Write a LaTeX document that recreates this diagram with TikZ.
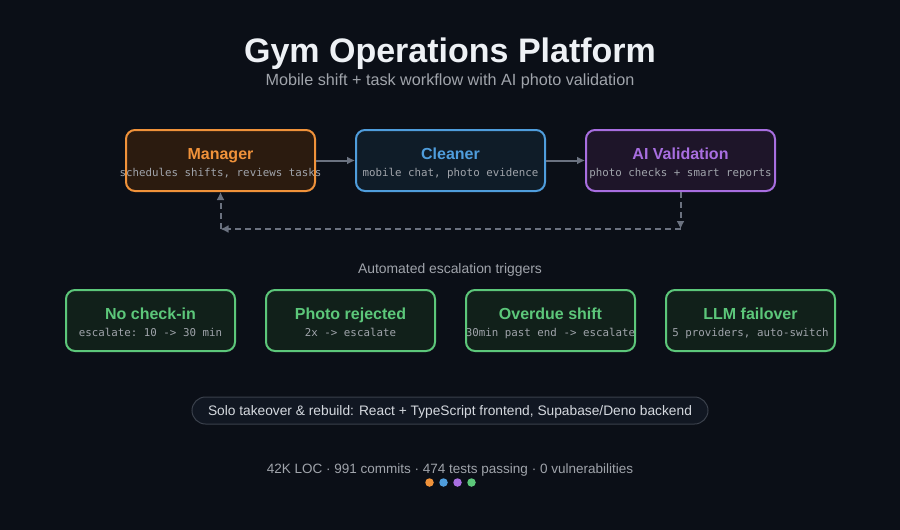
\documentclass[tikz,border=0pt]{standalone}
\usepackage{fontspec}
\setmainfont{Liberation Sans}
\setmonofont{DejaVu Sans Mono}
\usetikzlibrary{arrows.meta}
\definecolor{bg}{HTML}{0B0F17}
\definecolor{mgrfill}{HTML}{2B1B0F}
\definecolor{mgrline}{HTML}{F0923A}
\definecolor{clnfill}{HTML}{0F1C28}
\definecolor{clnline}{HTML}{4F9DDC}
\definecolor{aifill}{HTML}{1E1529}
\definecolor{ailine}{HTML}{A86EE0}
\definecolor{grnfill}{HTML}{11201A}
\definecolor{grnline}{HTML}{5CC77A}
\definecolor{subgray}{HTML}{A0A4AB}
\definecolor{conn}{HTML}{6B7280}
\definecolor{titlecol}{HTML}{EEF1F5}
\definecolor{pillfill}{HTML}{111722}
\definecolor{pillline}{HTML}{3A404B}
\definecolor{pilltext}{HTML}{D5D9DF}
\tikzset{
  topbox/.style={draw=#1, line width=2pt, rounded corners=9pt, minimum width=189pt, minimum height=61pt},
  grnbox/.style={draw=grnline, fill=grnfill, line width=2pt, rounded corners=9pt, minimum width=169pt, minimum height=61pt},
  boxtitle/.style={font=\fontsize{16}{18}\selectfont\bfseries, text=#1, inner sep=0pt, anchor=base},
  boxsub/.style={font=\fontsize{10.8}{13}\ttfamily, text=subgray, inner sep=0pt, anchor=base},
  flow/.style={draw=conn, line width=2pt, -{Latex[length=8pt,width=8pt]}},
  dflow/.style={draw=conn, line width=2pt, dash pattern=on 6pt off 4pt, -{Latex[length=8pt,width=8pt]}},
  dotn/.style={circle, inner sep=0pt, minimum size=8.5pt, fill=#1}
}
\begin{document}
\begin{tikzpicture}[x=1pt,y=-1pt]
\fill[bg] (0,0) rectangle (900,530);
\useasboundingbox (0,0) rectangle (900,530);

\node[font=\fontsize{34}{38}\selectfont\bfseries, text=titlecol, inner sep=0pt, anchor=base] (title) at (450,62) {Gym Operations Platform};
\node[font=\fontsize{16.2}{19}\selectfont, text=subgray, inner sep=0pt, anchor=base] (subtitle) at (450,85) {Mobile shift + task workflow with AI photo validation};

\node[topbox=mgrline, fill=mgrfill] (mgr) at (220.5,160.5) {};
\node[topbox=clnline, fill=clnfill] (cln) at (450.5,160.5) {};
\node[topbox=ailine, fill=aifill] (ai) at (680.5,160.5) {};

\node[boxtitle=mgrline] (mgrt) at (220.5,159.5) {Manager};
\node[boxsub] (mgrs) at (220.5,176) {schedules shifts, reviews tasks};
\node[boxtitle=clnline] (clnt) at (450.5,159.5) {Cleaner};
\node[boxsub] (clns) at (450.5,176) {mobile chat, photo evidence};
\node[boxtitle=ailine] (ait) at (680.5,159.5) {AI Validation};
\node[boxsub] (ais) at (680.5,176) {photo checks + smart reports};

\draw[flow] (mgr.east) -- (cln.west);
\draw[flow] (cln.east) -- (ai.west);

\coordinate (c1) at (680.5,229);
\coordinate (c2) at (220.5,229);
\draw[dflow] (ai.south) -- (c1);
\draw[dflow] (c1) -- (c2);
\draw[dflow] (c2) -- (mgr.south);

\node[font=\fontsize{13.9}{16}\selectfont, text=subgray, inner sep=0pt, anchor=base] (trig) at (450,273) {Automated escalation triggers};

\node[grnbox] (g1) at (150.5,320.5) {};
\node[grnbox] (g2) at (350.5,320.5) {};
\node[grnbox] (g3) at (550.5,320.5) {};
\node[grnbox] (g4) at (750.5,320.5) {};
\node[boxtitle=grnline] (g1t) at (150.5,319.5) {No check-in};
\node[boxsub] (g1s) at (150.5,336) {escalate: 10 -> 30 min};
\node[boxtitle=grnline] (g2t) at (350.5,319.5) {Photo rejected};
\node[boxsub] (g2s) at (350.5,336) {2x -> escalate};
\node[boxtitle=grnline] (g3t) at (550.5,319.5) {Overdue shift};
\node[boxsub] (g3s) at (550.5,336) {30min past end -> escalate};
\node[boxtitle=grnline] (g4t) at (750.5,319.5) {LLM failover};
\node[boxsub] (g4s) at (750.5,336) {5 providers, auto-switch};

\node[draw=pillline, fill=pillfill, line width=1pt, rounded corners=13.5pt, minimum width=516pt, minimum height=27pt, inner sep=0pt] (pill) at (450,410.5) {};
\node[font=\fontsize{13.75}{16}\selectfont, text=pilltext, inner sep=0pt, anchor=base] (pillt) at (450,415) {Solo takeover \& rebuild: React + TypeScript frontend, Supabase/Deno backend};

\node[font=\fontsize{13.5}{16}\selectfont, text=subgray, inner sep=0pt, anchor=base] (stats) at (450,473) {42K LOC · 991 commits · 474 tests passing · 0 vulnerabilities};

\node[dotn=mgrline] (d1) at (429.5,482.5) {};
\node[dotn=clnline] (d2) at (443.5,482.5) {};
\node[dotn=ailine] (d3) at (457.5,482.5) {};
\node[dotn=grnline] (d4) at (471.5,482.5) {};
\end{tikzpicture}
\end{document}
